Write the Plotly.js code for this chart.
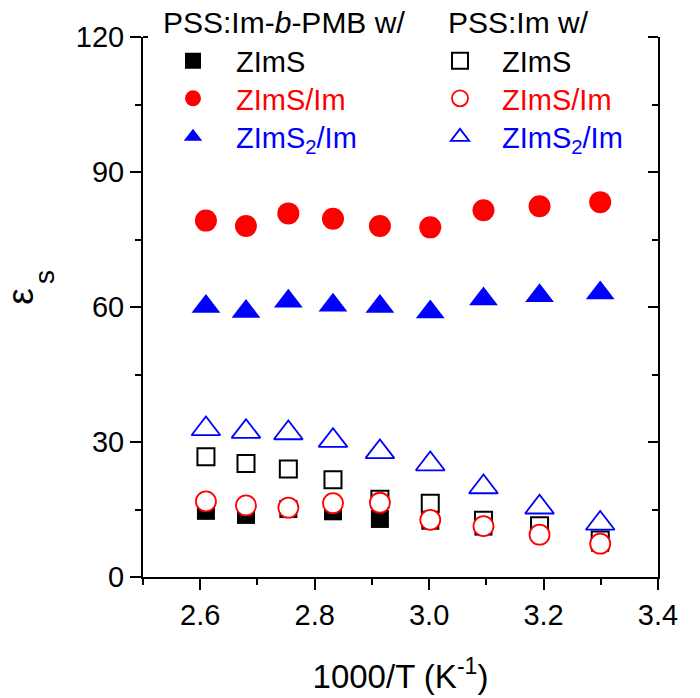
<!DOCTYPE html>
<html>
<head>
<meta charset="utf-8">
<script src="https://cdn.plot.ly/plotly-3.0.1.min.js"></script>
<style>html,body{margin:0;padding:0;background:#fff;}#chart{width:700px;height:698px;}</style>
</head>
<body>
<div id="chart"></div>
<script>
// 1000/T (K^-1)
const invT = [2.610, 2.680, 2.754, 2.832, 2.914, 3.002, 3.095, 3.193, 3.299];

// PSS:Im-b-PMB with ...
const blockZImS    = [14.7, 13.8, 15.1, 14.6, 12.9, 12.5, 11.2, 10.5, 7.6];
const blockZImSIm  = [79.2, 78.0, 80.8, 79.6, 78.0, 77.7, 81.5, 82.4, 83.3];
const blockZImS2Im = [60.1, 59.0, 61.3, 60.4, 60.1, 58.9, 61.8, 62.5, 63.1];

// PSS:Im with ...
const homoZImS     = [26.7, 25.2, 24.0, 21.6, 17.3, 16.4, 12.6, 11.4, 8.2];
const homoZImSIm   = [16.8, 15.9, 15.4, 16.4, 16.5, 12.7, 11.3, 9.4, 7.4];
const homoZImS2Im  = [32.9, 32.3, 32.0, 30.3, 27.8, 25.1, 20.0, 15.5, 11.9];

const seriesNames = ['ZImS', 'ZImS/Im', 'ZImS<sub>2</sub>/Im'];
const groupTitles = ['PSS:Im-<i>b</i>-PMB w/', 'PSS:Im w/'];

const BLACK = '#000000', RED = '#ff0000', BLUE = '#0000ff';
const FONT = 'Liberation Sans, Arial, sans-serif';
const colors = [BLACK, RED, BLUE];

const traces = [
  {x: invT, y: blockZImS, name: seriesNames[0], legend: 'legend',
   mode: 'markers', type: 'scatter',
   marker: {symbol: 'square', size: 18, color: BLACK, line: {width: 0}}},
  {x: invT, y: blockZImSIm, name: seriesNames[1], legend: 'legend2',
   mode: 'markers', type: 'scatter',
   marker: {symbol: 'circle', size: 22, color: RED, line: {width: 0}}},
  {x: invT, y: blockZImS2Im, name: seriesNames[2], legend: 'legend3',
   mode: 'markers', type: 'scatter',
   marker: {symbol: 'triangle-up', size: 25, color: BLUE, line: {width: 0}}},
  {x: invT, y: homoZImS, name: seriesNames[0], legend: 'legend4',
   mode: 'markers', type: 'scatter',
   marker: {symbol: 'square', size: 17, color: '#ffffff', line: {width: 2, color: BLACK}}},
  {x: invT, y: homoZImSIm, name: seriesNames[1], legend: 'legend5',
   mode: 'markers', type: 'scatter',
   marker: {symbol: 'circle', size: 20, color: '#ffffff', line: {width: 1.8, color: RED}}},
  {x: invT, y: homoZImS2Im, name: seriesNames[2], legend: 'legend6',
   mode: 'markers', type: 'scatter', yaxis: 'y2',
   marker: {symbol: 'triangle-up', size: 25, color: '#ffffff', line: {width: 1.8, color: BLUE}}}
];

const L = 143, R = 658, T = 37, B = 577;
const px = v => (v - L) / (R - L);
const py = v => (B - v) / (B - T);

const axisCommon = {
  showline: true, linecolor: BLACK, linewidth: 2,
  showgrid: false, zeroline: false,
  ticks: 'outside', ticklen: 11, tickwidth: 2, tickcolor: BLACK,
  tickfont: {family: FONT, size: 29, color: BLACK}
};

function legendBox(left, top, color, iw) {
  return {
    x: px(left), y: py(top), xanchor: 'left', yanchor: 'top',
    bgcolor: 'rgba(0,0,0,0)', borderwidth: 0,
    itemwidth: iw, tracegroupgap: 0,
    font: {family: FONT, size: 29, color: color}
  };
}

const rowTops = [35.5, 73, 111.5];

const layout = {
  width: 700, height: 698,
  margin: {l: L, r: 700 - R, t: T, b: 698 - B, pad: 0},
  paper_bgcolor: '#ffffff', plot_bgcolor: '#ffffff',
  font: {family: FONT, color: BLACK},
  showlegend: true,
  xaxis: Object.assign({}, axisCommon, {
    range: [2.5, 3.4], dtick: 0.2, tick0: 0, tickformat: '.1f',
    minor: {dtick: 0.1, tick0: 0, ticks: 'outside', ticklen: 6, tickwidth: 2, tickcolor: BLACK},
    title: {text: '1000/T (K<sup>-1</sup>)', font: {family: FONT, size: 33, color: BLACK}, standoff: 35}
  }),
  yaxis: Object.assign({}, axisCommon, {
    range: [0, 120], dtick: 30, tick0: 0,
    minor: {dtick: 15, tick0: 0, ticks: 'outside', ticklen: 6, tickwidth: 2, tickcolor: BLACK}
  }),
  yaxis2: {
    overlaying: 'y', side: 'right', anchor: 'x',
    range: [0, 120], dtick: 30, tick0: 0,
    showline: true, linecolor: BLACK, linewidth: 2,
    showgrid: false, zeroline: false, showticklabels: false,
    ticks: 'inside', ticklen: 10, tickwidth: 2, tickcolor: BLACK,
    minor: {dtick: 15, tick0: 0, ticks: 'inside', ticklen: 6, tickwidth: 2, tickcolor: BLACK}
  },
  legend:  legendBox(150, rowTops[0], colors[0], 76),
  legend2: legendBox(150, rowTops[1], colors[1], 76),
  legend3: legendBox(150, rowTops[2], colors[2], 76),
  legend4: legendBox(418, rowTops[0], colors[0], 74),
  legend5: legendBox(418, rowTops[1], colors[1], 74),
  legend6: legendBox(418, rowTops[2], colors[2], 74),
  shapes: [
    {type: 'line', xref: 'paper', yref: 'paper', x0: 0, x1: px(148), y0: 1, y1: 1,
     line: {color: BLACK, width: 2}},
    {type: 'line', xref: 'paper', yref: 'paper', x0: px(648), x1: 1, y0: 1, y1: 1,
     line: {color: BLACK, width: 2}}
  ],
  annotations: [
    {xref: 'paper', yref: 'paper', x: px(161), y: py(22), xanchor: 'left', yanchor: 'middle',
     text: groupTitles[0], showarrow: false, font: {family: FONT, size: 30, color: BLACK}},
    {xref: 'paper', yref: 'paper', x: px(446), y: py(22), xanchor: 'left', yanchor: 'middle',
     text: groupTitles[1], showarrow: false, font: {family: FONT, size: 30, color: BLACK}},
    {xref: 'paper', yref: 'paper', x: px(20.3), y: py(296.5), xanchor: 'center', yanchor: 'middle',
     text: 'ε', textangle: -90, showarrow: false, font: {family: FONT, size: 37, color: BLACK}},
    {xref: 'paper', yref: 'paper', x: px(44.6), y: py(277.5), xanchor: 'center', yanchor: 'middle',
     text: 's', textangle: -90, showarrow: false, font: {family: FONT, size: 28, color: BLACK}}
  ]
};

Plotly.newPlot('chart', traces, layout, {displayModeBar: false, staticPlot: true});
</script>
</body>
</html>
